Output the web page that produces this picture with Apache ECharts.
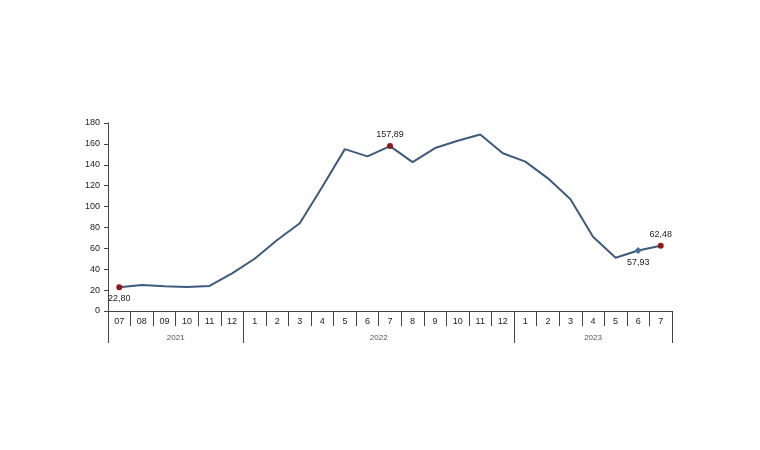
<!DOCTYPE html>
<html><head><meta charset="utf-8">
<script src="https://cdn.jsdelivr.net/npm/echarts@6/dist/echarts.min.js"></script>
<style>html,body{margin:0;padding:0;background:#fff}#c{width:760px;height:450px}</style>
</head><body><div id="c"></div>
<script>
const months = ['07','08','09','10','11','12','1','2','3','4','5','6','7','8','9','10','11','12','1','2','3','4','5','6','7'];
const values = [22.80,25,23.8,23,24,36,50,68,84,119,155,148,157.89,142.6,156,163,169,151,143,127,107,71,51,57.93,62.48];
const years = ['2021','2022','2023'];
const yearCounts = [6,12,7];
const yTicks = [0,20,40,60,80,100,120,140,160,180];
// labelled points: index, label position, symbol, colour
const labelled = [
  {i:0, pos:'bottom', symbol:'circle', color:'#8b1a1a'},
  {i:12, pos:'top', symbol:'circle', color:'#8b1a1a'},
  {i:23, pos:'bottom', symbol:'diamond', color:'#4a6e94'},
  {i:24, pos:'top', symbol:'circle', color:'#8b1a1a'}
];

// half-month boundary axis for year groups
const n = months.length;
const half = new Array(2*n+1).fill('');
const boundSet = new Set([0]);
(function(){
  let s = 0;
  yearCounts.forEach((c,k)=>{ half[2*s + c] = years[k]; s += c; boundSet.add(2*s); });
})();

const data = values.map((v,idx)=>{
  const l = labelled.find(o=>o.i===idx);
  if(!l) return {value:v, symbol:'none'};
  return {value:v, symbol:l.symbol, symbolSize: l.symbol==='diamond'?7:6,
    itemStyle:{color:l.color},
    label:{show:true, position:l.pos, distance:4,
      formatter: ()=> v.toFixed(2).replace('.',','),
      fontSize:9, color:'#222', fontFamily:'Liberation Sans, Arial'}};
});

const chart = echarts.init(document.getElementById('c'));
chart.setOption({
  animation:false,
  grid:{left:108, right:88, top:123, bottom:139},
  xAxis:[{
    type:'category', data:months, boundaryGap:true, position:'bottom',
    axisLine:{lineStyle:{color:'#444', width:1}},
    axisTick:{show:true, length:15, lineStyle:{color:'#444'}},
    axisLabel:{fontSize:9, color:'#222', margin:6, fontFamily:'Liberation Sans, Arial', interval:0}
  },{
    type:'category', data:half, boundaryGap:false, position:'bottom', offset:15,
    axisLine:{show:false},
    axisTick:{show:true, length:17, interval:(i)=>boundSet.has(i), lineStyle:{color:'#444'}},
    axisLabel:{fontSize:8, color:'#555', margin:8, interval:0, fontFamily:'Liberation Sans, Arial'}
  }],
  yAxis:{
    type:'value', min:0, max:180, interval:20,
    splitLine:{show:false},
    axisLine:{show:true, lineStyle:{color:'#444'}},
    axisTick:{show:true, length:4, lineStyle:{color:'#444'}},
    axisLabel:{fontSize:9, color:'#222', margin:8, fontFamily:'Liberation Sans, Arial',
      formatter:(v)=> yTicks.includes(v)? String(v):''}
  },
  series:[{
    type:'line', xAxisIndex:0, data:data,
    lineStyle:{color:'#3e5b7c', width:2},
    itemStyle:{color:'#3e5b7c'},
    showAllSymbol:true
  }]
});
</script></body></html>
